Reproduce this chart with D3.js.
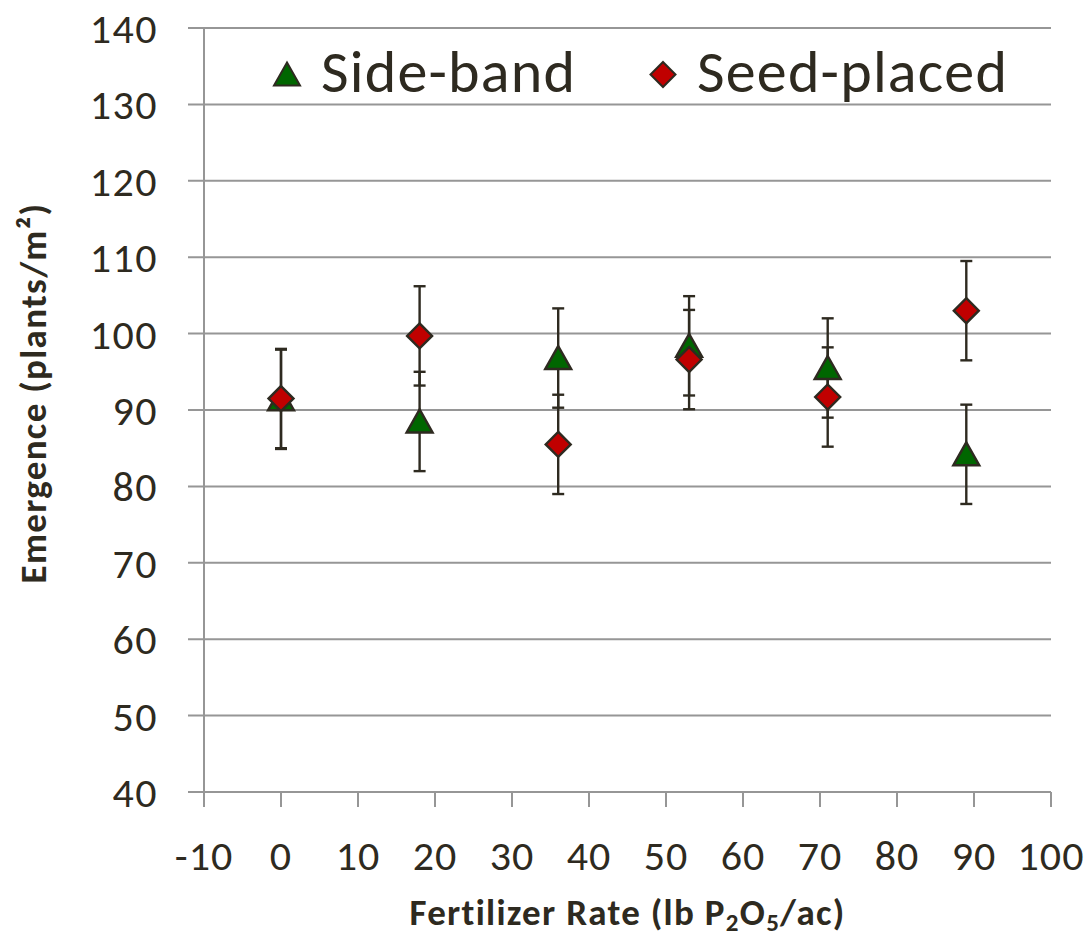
<!DOCTYPE html>
<html>
<head>
<meta charset="utf-8">
<script src="https://cdn.jsdelivr.net/npm/d3@7"></script>
<style>
  body { margin: 0; background: #fff; }
  svg text { font-family: Carlito, Calibri, Lato, "Open Sans", sans-serif; fill: #2e2a20; }
</style>
</head>
<body>
<svg id="chart"></svg>
<script>
// emergence vs P2O5 rate, two placements
var rates = [0, 18, 36, 53, 71, 89];
var sideBand = [91.4, 88.5, 96.8, 98.4, 95.5, 84.2];
var seedPlaced = [91.5, 99.7, 85.5, 96.6, 91.7, 103.0];
var sideErr = [6.5, 6.5, 6.5, 6.5, 6.5, 6.5];
var seedErr = [6.5, 6.5, 6.5, 6.5, 6.5, 6.5];
var xTicks = [-10, 0, 10, 20, 30, 40, 50, 60, 70, 80, 90, 100];
var yTicks = [40, 50, 60, 70, 80, 90, 100, 110, 120, 130, 140];

var W = 1091, H = 938;
var margin = {top: 28, right: 40, bottom: 146, left: 204};

const svg = d3.select("#chart").attr("width", W).attr("height", H);

var x = d3.scaleLinear().domain([-10, 100]).range([margin.left, W - margin.right]);
var y = d3.scaleLinear().domain([40, 140]).range([H - margin.bottom, margin.top]);

var ink = "#2e2a20", grid = "#969696";

// gridlines + y ticks
svg.append("g").selectAll("line")
  .data(yTicks).enter().append("line")
  .attr("x1", x(-10) - 16).attr("x2", x(100))
  .attr("y1", d => y(d)).attr("y2", d => y(d))
  .attr("stroke", grid).attr("stroke-width", 2);

// y axis line
svg.append("line")
  .attr("x1", x(-10)).attr("x2", x(-10))
  .attr("y1", y(140)).attr("y2", y(40))
  .attr("stroke", grid).attr("stroke-width", 2);

// x ticks
svg.append("g").selectAll("line")
  .data(xTicks).enter().append("line")
  .attr("x1", d => x(d)).attr("x2", d => x(d))
  .attr("y1", y(40)).attr("y2", y(40) + 15)
  .attr("stroke", grid).attr("stroke-width", 2);

svg.append("g").selectAll("text")
  .data(yTicks).enter().append("text")
  .attr("x", 158).attr("y", d => y(d) + 15)
  .attr("text-anchor", "end")
  .style("font-size", "42px").style("letter-spacing", "1.5px")
  .text(d => d);

svg.append("g").selectAll("text")
  .data(xTicks).enter().append("text")
  .attr("x", d => x(d)).attr("y", 870)
  .attr("text-anchor", "middle")
  .style("font-size", "42px").style("letter-spacing", "1px")
  .text(d => d);

// axis titles
var xt = svg.append("text")
  .attr("x", (x(-10) + x(100)) / 2).attr("y", 925)
  .attr("text-anchor", "middle")
  .style("font-size", "37px").style("font-weight", "bold").style("letter-spacing", "1.3px");
xt.append("tspan").text("Fertilizer Rate (lb P");
xt.append("tspan").text("2").attr("dy", 6).style("font-size", "25px");
xt.append("tspan").text("O").attr("dy", -6);
xt.append("tspan").text("5").attr("dy", 6).style("font-size", "25px");
xt.append("tspan").text("/ac)").attr("dy", -6);

svg.append("text")
  .attr("transform", "translate(46," + 393 + ") rotate(-90)")
  .attr("text-anchor", "middle")
  .style("font-size", "37px").style("font-weight", "bold").style("letter-spacing", "1.3px")
  .text("Emergence (plants/m²)");

// markers
function triPath(cx, cy) {
  return "M" + cx + "," + (cy - 12) + "L" + (cx + 13) + "," + (cy + 11) + "L" + (cx - 13) + "," + (cy + 11) + "Z";
}
function diaPath(cx, cy) {
  return "M" + cx + "," + (cy - 12.5) + "L" + (cx + 12.5) + "," + cy + "L" + cx + "," + (cy + 12.5) + "L" + (cx - 12.5) + "," + cy + "Z";
}

var series = [
  {name: "Side-band", vals: sideBand, err: sideErr, fill: "#006600", shape: triPath},
  {name: "Seed-placed", vals: seedPlaced, err: seedErr, fill: "#c00000", shape: diaPath}
];

// error bars
series.forEach(function(s) {
  var g = svg.append("g").attr("stroke", ink).attr("stroke-width", 2.4);
  rates.forEach(function(r, i) {
    var lo = y(s.vals[i] - s.err[i]), hi = y(s.vals[i] + s.err[i]), cx = x(r);
    g.append("line").attr("x1", cx).attr("x2", cx).attr("y1", lo).attr("y2", hi);
    g.append("line").attr("x1", cx - 6).attr("x2", cx + 6).attr("y1", lo).attr("y2", lo);
    g.append("line").attr("x1", cx - 6).attr("x2", cx + 6).attr("y1", hi).attr("y2", hi);
  });
});

series.forEach(function(s) {
  svg.append("g").selectAll("path")
    .data(rates).enter().append("path")
    .attr("d", (r, i) => s.shape(x(r), y(s.vals[i])))
    .attr("fill", s.fill).attr("stroke", ink).attr("stroke-width", 2.4);
});

// legend
var lg = svg.append("g");
lg.append("path").attr("d", triPath(287, 74.5)).attr("fill", "#006600").attr("stroke", ink).attr("stroke-width", 2);
lg.append("text").attr("x", 321).attr("y", 92).style("font-size", "60px").style("letter-spacing", "1.2px").text("Side-band");
lg.append("path").attr("d", diaPath(663, 74.5)).attr("fill", "#c00000").attr("stroke", ink).attr("stroke-width", 2);
lg.append("text").attr("x", 697).attr("y", 92).style("font-size", "60px").style("letter-spacing", "1.2px").text("Seed-placed");
</script>
</body>
</html>
